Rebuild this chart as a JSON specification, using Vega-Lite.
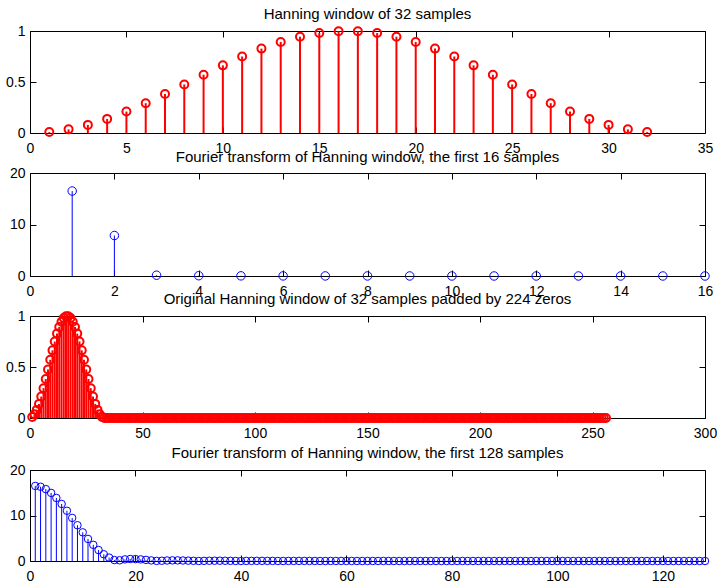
{
  "$schema": "https://vega.github.io/schema/vega-lite/v6.json",
  "padding": {"left": 5, "top": 7, "right": 0, "bottom": 0},
  "background": "white",
  "spacing": 40,
  "bounds": "flush",
  "config": {
    "view": {"stroke": null},
    "font": "Liberation Sans",
    "axis": {"grid": false, "domainColor": "black", "tickColor": "black", "labelColor": "black", "labelFontSize": 14, "labelFont": "Liberation Sans", "tickSize": -6, "domainWidth": 1, "tickWidth": 1, "labelFlush": false, "labelOverlap": false, "labelBound": false},
    "axisBottom": {"labelPadding": 25, "labelBaseline": "alphabetic"},
    "axisLeft": {"labelPadding": 11},
    "axisTop": {"labels": false},
    "axisRight": {"labels": false},
    "title": {"fontSize": 15, "fontWeight": "normal", "color": "black", "font": "Liberation Sans", "frame": "group", "anchor": "middle", "baseline": "alphabetic", "offset": 1}
  },
  "datasets": {
    "hann32": [
      {"n":1,"w":0.0090},{"n":2,"w":0.0358},{"n":3,"w":0.0794},{"n":4,"w":0.1382},{"n":5,"w":0.2103},{"n":6,"w":0.2923},{"n":7,"w":0.3821},{"n":8,"w":0.4762},
      {"n":9,"w":0.5712},{"n":10,"w":0.6633},{"n":11,"w":0.75},{"n":12,"w":0.8274},{"n":13,"w":0.8930},{"n":14,"w":0.9444},{"n":15,"w":0.9797},{"n":16,"w":0.9977},
      {"n":17,"w":0.9977},{"n":18,"w":0.9797},{"n":19,"w":0.9444},{"n":20,"w":0.8930},{"n":21,"w":0.8274},{"n":22,"w":0.75},{"n":23,"w":0.6633},{"n":24,"w":0.5712},
      {"n":25,"w":0.4762},{"n":26,"w":0.3821},{"n":27,"w":0.2923},{"n":28,"w":0.2103},{"n":29,"w":0.1382},{"n":30,"w":0.0794},{"n":31,"w":0.0358},{"n":32,"w":0.0090}
    ],
    "fft16": [
      {"k":1,"m":16.5},{"k":2,"m":7.86},{"k":3,"m":0.153},{"k":4,"m":0.058},{"k":5,"m":0.030},{"k":6,"m":0.019},{"k":7,"m":0.013},{"k":8,"m":0.009},
      {"k":9,"m":0.007},{"k":10,"m":0.005},{"k":11,"m":0.004},{"k":12,"m":0.003},{"k":13,"m":0.003},{"k":14,"m":0.002},{"k":15,"m":0.002},{"k":16,"m":0.002}
    ],
    "hann256": [
      {"n":1,"w":0.0090},{"n":2,"w":0.0358},{"n":3,"w":0.0794},{"n":4,"w":0.1382},{"n":5,"w":0.2103},{"n":6,"w":0.2923},{"n":7,"w":0.3821},{"n":8,"w":0.4762},
      {"n":9,"w":0.5712},{"n":10,"w":0.6633},{"n":11,"w":0.75},{"n":12,"w":0.8274},{"n":13,"w":0.8930},{"n":14,"w":0.9444},{"n":15,"w":0.9797},{"n":16,"w":0.9977},
      {"n":17,"w":0.9977},{"n":18,"w":0.9797},{"n":19,"w":0.9444},{"n":20,"w":0.8930},{"n":21,"w":0.8274},{"n":22,"w":0.75},{"n":23,"w":0.6633},{"n":24,"w":0.5712},
      {"n":25,"w":0.4762},{"n":26,"w":0.3821},{"n":27,"w":0.2923},{"n":28,"w":0.2103},{"n":29,"w":0.1382},{"n":30,"w":0.0794},{"n":31,"w":0.0358},{"n":32,"w":0.0090},
      {"n":33,"w":0},{"n":34,"w":0},{"n":35,"w":0},{"n":36,"w":0},{"n":37,"w":0},{"n":38,"w":0},{"n":39,"w":0},{"n":40,"w":0},
      {"n":41,"w":0},{"n":42,"w":0},{"n":43,"w":0},{"n":44,"w":0},{"n":45,"w":0},{"n":46,"w":0},{"n":47,"w":0},{"n":48,"w":0},
      {"n":49,"w":0},{"n":50,"w":0},{"n":51,"w":0},{"n":52,"w":0},{"n":53,"w":0},{"n":54,"w":0},{"n":55,"w":0},{"n":56,"w":0},
      {"n":57,"w":0},{"n":58,"w":0},{"n":59,"w":0},{"n":60,"w":0},{"n":61,"w":0},{"n":62,"w":0},{"n":63,"w":0},{"n":64,"w":0},
      {"n":65,"w":0},{"n":66,"w":0},{"n":67,"w":0},{"n":68,"w":0},{"n":69,"w":0},{"n":70,"w":0},{"n":71,"w":0},{"n":72,"w":0},
      {"n":73,"w":0},{"n":74,"w":0},{"n":75,"w":0},{"n":76,"w":0},{"n":77,"w":0},{"n":78,"w":0},{"n":79,"w":0},{"n":80,"w":0},
      {"n":81,"w":0},{"n":82,"w":0},{"n":83,"w":0},{"n":84,"w":0},{"n":85,"w":0},{"n":86,"w":0},{"n":87,"w":0},{"n":88,"w":0},
      {"n":89,"w":0},{"n":90,"w":0},{"n":91,"w":0},{"n":92,"w":0},{"n":93,"w":0},{"n":94,"w":0},{"n":95,"w":0},{"n":96,"w":0},
      {"n":97,"w":0},{"n":98,"w":0},{"n":99,"w":0},{"n":100,"w":0},{"n":101,"w":0},{"n":102,"w":0},{"n":103,"w":0},{"n":104,"w":0},
      {"n":105,"w":0},{"n":106,"w":0},{"n":107,"w":0},{"n":108,"w":0},{"n":109,"w":0},{"n":110,"w":0},{"n":111,"w":0},{"n":112,"w":0},
      {"n":113,"w":0},{"n":114,"w":0},{"n":115,"w":0},{"n":116,"w":0},{"n":117,"w":0},{"n":118,"w":0},{"n":119,"w":0},{"n":120,"w":0},
      {"n":121,"w":0},{"n":122,"w":0},{"n":123,"w":0},{"n":124,"w":0},{"n":125,"w":0},{"n":126,"w":0},{"n":127,"w":0},{"n":128,"w":0},
      {"n":129,"w":0},{"n":130,"w":0},{"n":131,"w":0},{"n":132,"w":0},{"n":133,"w":0},{"n":134,"w":0},{"n":135,"w":0},{"n":136,"w":0},
      {"n":137,"w":0},{"n":138,"w":0},{"n":139,"w":0},{"n":140,"w":0},{"n":141,"w":0},{"n":142,"w":0},{"n":143,"w":0},{"n":144,"w":0},
      {"n":145,"w":0},{"n":146,"w":0},{"n":147,"w":0},{"n":148,"w":0},{"n":149,"w":0},{"n":150,"w":0},{"n":151,"w":0},{"n":152,"w":0},
      {"n":153,"w":0},{"n":154,"w":0},{"n":155,"w":0},{"n":156,"w":0},{"n":157,"w":0},{"n":158,"w":0},{"n":159,"w":0},{"n":160,"w":0},
      {"n":161,"w":0},{"n":162,"w":0},{"n":163,"w":0},{"n":164,"w":0},{"n":165,"w":0},{"n":166,"w":0},{"n":167,"w":0},{"n":168,"w":0},
      {"n":169,"w":0},{"n":170,"w":0},{"n":171,"w":0},{"n":172,"w":0},{"n":173,"w":0},{"n":174,"w":0},{"n":175,"w":0},{"n":176,"w":0},
      {"n":177,"w":0},{"n":178,"w":0},{"n":179,"w":0},{"n":180,"w":0},{"n":181,"w":0},{"n":182,"w":0},{"n":183,"w":0},{"n":184,"w":0},
      {"n":185,"w":0},{"n":186,"w":0},{"n":187,"w":0},{"n":188,"w":0},{"n":189,"w":0},{"n":190,"w":0},{"n":191,"w":0},{"n":192,"w":0},
      {"n":193,"w":0},{"n":194,"w":0},{"n":195,"w":0},{"n":196,"w":0},{"n":197,"w":0},{"n":198,"w":0},{"n":199,"w":0},{"n":200,"w":0},
      {"n":201,"w":0},{"n":202,"w":0},{"n":203,"w":0},{"n":204,"w":0},{"n":205,"w":0},{"n":206,"w":0},{"n":207,"w":0},{"n":208,"w":0},
      {"n":209,"w":0},{"n":210,"w":0},{"n":211,"w":0},{"n":212,"w":0},{"n":213,"w":0},{"n":214,"w":0},{"n":215,"w":0},{"n":216,"w":0},
      {"n":217,"w":0},{"n":218,"w":0},{"n":219,"w":0},{"n":220,"w":0},{"n":221,"w":0},{"n":222,"w":0},{"n":223,"w":0},{"n":224,"w":0},
      {"n":225,"w":0},{"n":226,"w":0},{"n":227,"w":0},{"n":228,"w":0},{"n":229,"w":0},{"n":230,"w":0},{"n":231,"w":0},{"n":232,"w":0},
      {"n":233,"w":0},{"n":234,"w":0},{"n":235,"w":0},{"n":236,"w":0},{"n":237,"w":0},{"n":238,"w":0},{"n":239,"w":0},{"n":240,"w":0},
      {"n":241,"w":0},{"n":242,"w":0},{"n":243,"w":0},{"n":244,"w":0},{"n":245,"w":0},{"n":246,"w":0},{"n":247,"w":0},{"n":248,"w":0},
      {"n":249,"w":0},{"n":250,"w":0},{"n":251,"w":0},{"n":252,"w":0},{"n":253,"w":0},{"n":254,"w":0},{"n":255,"w":0},{"n":256,"w":0}
    ],
    "fft128": [
      {"k":1,"m":16.5},{"k":2,"m":16.32},{"k":3,"m":15.80},{"k":4,"m":14.97},{"k":5,"m":13.86},{"k":6,"m":12.53},{"k":7,"m":11.04},{"k":8,"m":9.47},
      {"k":9,"m":7.86},{"k":10,"m":6.30},{"k":11,"m":4.85},{"k":12,"m":3.55},{"k":13,"m":2.41},{"k":14,"m":1.48},{"k":15,"m":0.75},{"k":16,"m":0.205},
      {"k":17,"m":0.153},{"k":18,"m":0.357},{"k":19,"m":0.437},{"k":20,"m":0.424},{"k":21,"m":0.350},{"k":22,"m":0.244},{"k":23,"m":0.130},{"k":24,"m":0.025},
      {"k":25,"m":0.058},{"k":26,"m":0.112},{"k":27,"m":0.137},{"k":28,"m":0.136},{"k":29,"m":0.114},{"k":30,"m":0.079},{"k":31,"m":0.040},{"k":32,"m":0.001},
      {"k":33,"m":0.030},{"k":34,"m":0.052},{"k":35,"m":0.061},{"k":36,"m":0.060},{"k":37,"m":0.050},{"k":38,"m":0.034},{"k":39,"m":0.015},{"k":40,"m":0.004},
      {"k":41,"m":0.019},{"k":42,"m":0.029},{"k":43,"m":0.033},{"k":44,"m":0.032},{"k":45,"m":0.026},{"k":46,"m":0.016},{"k":47,"m":0.006},{"k":48,"m":0.005},
      {"k":49,"m":0.013},{"k":50,"m":0.018},{"k":51,"m":0.020},{"k":52,"m":0.018},{"k":53,"m":0.014},{"k":54,"m":0.009},{"k":55,"m":0.002},{"k":56,"m":0.004},
      {"k":57,"m":0.009},{"k":58,"m":0.012},{"k":59,"m":0.013},{"k":60,"m":0.012},{"k":61,"m":0.009},{"k":62,"m":0.005},{"k":63,"m":0.0003},{"k":64,"m":0.004},
      {"k":65,"m":0.007},{"k":66,"m":0.008},{"k":67,"m":0.009},{"k":68,"m":0.008},{"k":69,"m":0.005},{"k":70,"m":0.003},{"k":71,"m":0.001},{"k":72,"m":0.003},
      {"k":73,"m":0.005},{"k":74,"m":0.006},{"k":75,"m":0.006},{"k":76,"m":0.005},{"k":77,"m":0.003},{"k":78,"m":0.001},{"k":79,"m":0.001},{"k":80,"m":0.003},
      {"k":81,"m":0.004},{"k":82,"m":0.0045},{"k":83,"m":0.0045},{"k":84,"m":0.0037},{"k":85,"m":0.0024},{"k":86,"m":0.0008},{"k":87,"m":0.0007},{"k":88,"m":0.002},
      {"k":89,"m":0.0029},{"k":90,"m":0.0033},{"k":91,"m":0.0032},{"k":92,"m":0.0026},{"k":93,"m":0.0016},{"k":94,"m":0.0004},{"k":95,"m":0.0008},{"k":96,"m":0.0018},
      {"k":97,"m":0.0024},{"k":98,"m":0.0025},{"k":99,"m":0.0022},{"k":100,"m":0.0016},{"k":101,"m":0.0007},{"k":102,"m":0.0003},{"k":103,"m":0.0012},{"k":104,"m":0.0017},
      {"k":105,"m":0.0019},{"k":106,"m":0.0018},{"k":107,"m":0.0013},{"k":108,"m":0.0006},{"k":109,"m":0.0002},{"k":110,"m":0.0009},{"k":111,"m":0.0013},{"k":112,"m":0.0015},
      {"k":113,"m":0.0014},{"k":114,"m":0.001},{"k":115,"m":0.0005},{"k":116,"m":0.0002},{"k":117,"m":0.0007},{"k":118,"m":0.001},{"k":119,"m":0.0012},{"k":120,"m":0.0011},
      {"k":121,"m":0.0008},{"k":122,"m":0.0004},{"k":123,"m":0.0002},{"k":124,"m":0.0006},{"k":125,"m":0.0009},{"k":126,"m":0.001},{"k":127,"m":0.0009},{"k":128,"m":0.0007}
    ]
  },
  "vconcat": [
    {
      "width": 675, "height": 102,
      "title": {"text": "Hanning window of 32 samples"},
      "data": {"name": "hann32"},
      "layer": [
        {"mark": {"type": "rule", "color": "#ff0000", "strokeWidth": 2},
         "encoding": {
           "x": {"field": "n", "type": "quantitative", "title": null, "scale": {"domain": [0, 35], "nice": false, "zero": false}, "axis": {"orient": "bottom", "values": [0, 5, 10, 15, 20, 25, 30, 35]}},
           "y": {"field": "w", "type": "quantitative", "title": null, "scale": {"domain": [0, 1], "nice": false}, "axis": {"orient": "left", "values": [0, 0.5, 1], "format": "~g"}},
           "y2": {"datum": 0}
         }},
        {"mark": {"type": "point", "shape": "circle", "filled": false, "color": "#ff0000", "strokeWidth": 2, "size": 64, "opacity": 1},
         "encoding": {
           "x": {"field": "n", "type": "quantitative", "title": null, "scale": {"domain": [0, 35], "nice": false, "zero": false}, "axis": {"orient": "top", "values": [0, 5, 10, 15, 20, 25, 30, 35]}},
           "y": {"field": "w", "type": "quantitative", "title": null, "scale": {"domain": [0, 1], "nice": false}, "axis": {"orient": "right", "values": [0, 0.5, 1]}}
         }}
      ],
      "resolve": {"axis": {"x": "independent", "y": "independent"}}
    },
    {
      "width": 675, "height": 103,
      "title": {"text": "Fourier transform of Hanning window, the first 16 samples"},
      "data": {"name": "fft16"},
      "layer": [
        {"mark": {"type": "rule", "color": "#0000ff", "strokeWidth": 1},
         "encoding": {
           "x": {"field": "k", "type": "quantitative", "title": null, "scale": {"domain": [0, 16], "nice": false, "zero": false}, "axis": {"orient": "bottom", "values": [0, 2, 4, 6, 8, 10, 12, 14, 16]}},
           "y": {"field": "m", "type": "quantitative", "title": null, "scale": {"domain": [0, 20], "nice": false}, "axis": {"orient": "left", "values": [0, 10, 20]}},
           "y2": {"datum": 0}
         }},
        {"mark": {"type": "point", "shape": "circle", "filled": false, "color": "#0000ff", "strokeWidth": 1, "size": 72, "opacity": 1},
         "encoding": {
           "x": {"field": "k", "type": "quantitative", "title": null, "scale": {"domain": [0, 16], "nice": false, "zero": false}, "axis": {"orient": "top", "values": [0, 2, 4, 6, 8, 10, 12, 14, 16]}},
           "y": {"field": "m", "type": "quantitative", "title": null, "scale": {"domain": [0, 20], "nice": false}, "axis": {"orient": "right", "values": [0, 10, 20]}}
         }}
      ],
      "resolve": {"axis": {"x": "independent", "y": "independent"}}
    },
    {
      "width": 675, "height": 102,
      "title": {"text": "Original Hanning window of 32 samples padded by 224 zeros"},
      "data": {"name": "hann256"},
      "layer": [
        {"mark": {"type": "rule", "color": "#ff0000", "strokeWidth": 2},
         "encoding": {
           "x": {"field": "n", "type": "quantitative", "title": null, "scale": {"domain": [0, 300], "nice": false, "zero": false}, "axis": {"orient": "bottom", "values": [0, 50, 100, 150, 200, 250, 300]}},
           "y": {"field": "w", "type": "quantitative", "title": null, "scale": {"domain": [0, 1], "nice": false}, "axis": {"orient": "left", "values": [0, 0.5, 1], "format": "~g"}},
           "y2": {"datum": 0}
         }},
        {"mark": {"type": "point", "shape": "circle", "filled": false, "color": "#ff0000", "strokeWidth": 2, "size": 64, "opacity": 1},
         "encoding": {
           "x": {"field": "n", "type": "quantitative", "title": null, "scale": {"domain": [0, 300], "nice": false, "zero": false}, "axis": {"orient": "top", "values": [0, 50, 100, 150, 200, 250, 300]}},
           "y": {"field": "w", "type": "quantitative", "title": null, "scale": {"domain": [0, 1], "nice": false}, "axis": {"orient": "right", "values": [0, 0.5, 1]}}
         }}
      ],
      "resolve": {"axis": {"x": "independent", "y": "independent"}}
    },
    {
      "width": 675, "height": 103,
      "title": {"text": "Fourier transform of Hanning window, the first 128 samples", "offset": -3},
      "data": {"name": "fft128"},
      "layer": [
        {"mark": {"type": "rule", "color": "#0000ff", "strokeWidth": 1},
         "encoding": {
           "x": {"field": "k", "type": "quantitative", "title": null, "scale": {"domain": [0, 128], "nice": false, "zero": false}, "axis": {"orient": "bottom", "values": [0, 20, 40, 60, 80, 100, 120]}},
           "y": {"field": "m", "type": "quantitative", "title": null, "scale": {"domain": [0, 20], "nice": false, "range": [103, 12]}, "axis": {"orient": "left", "values": [0, 10, 20]}},
           "y2": {"datum": 0}
         }},
        {"mark": {"type": "point", "shape": "circle", "filled": false, "color": "#0000ff", "strokeWidth": 1, "size": 56, "opacity": 1},
         "encoding": {
           "x": {"field": "k", "type": "quantitative", "title": null, "scale": {"domain": [0, 128], "nice": false, "zero": false}, "axis": {"orient": "top", "offset": -12, "values": [0, 20, 40, 60, 80, 100, 120]}},
           "y": {"field": "m", "type": "quantitative", "title": null, "scale": {"domain": [0, 20], "nice": false, "range": [103, 12]}, "axis": {"orient": "right", "values": [0, 10, 20]}}
         }}
      ],
      "resolve": {"axis": {"x": "independent", "y": "independent"}}
    }
  ]
}
